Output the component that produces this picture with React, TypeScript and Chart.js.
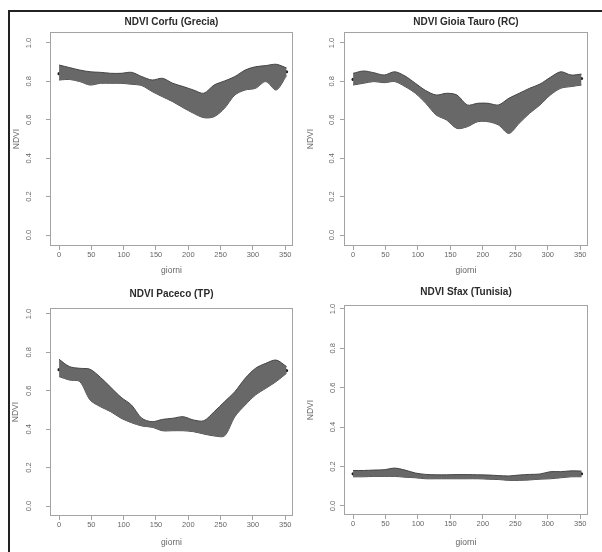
import React, { useEffect, useRef } from "react";
import { Chart, registerables } from "chart.js";
Chart.register(...registerables);

// ---- data ----
const days = [0, 16, 32, 48, 64, 80, 96, 112, 128, 144, 160, 176, 192, 208, 224, 240, 256, 272, 288, 304, 320, 336, 352];
const xTickValues = [0, 50, 100, 150, 200, 250, 300, 350];
const yTickValues = [0, 0.2, 0.4, 0.6, 0.8, 1.0];

const corfuHi = [0.885, 0.872, 0.859, 0.85, 0.847, 0.842, 0.842, 0.847, 0.825, 0.807, 0.816, 0.79, 0.773, 0.755, 0.738, 0.781, 0.802, 0.825, 0.859, 0.876, 0.882, 0.889, 0.87];
const corfuLo = [0.807, 0.81, 0.799, 0.781, 0.79, 0.79, 0.79, 0.785, 0.778, 0.747, 0.72, 0.694, 0.663, 0.634, 0.611, 0.616, 0.66, 0.729, 0.755, 0.764, 0.799, 0.755, 0.83];
const corfuMean = [0.84, 0.835, 0.83, 0.815, 0.82, 0.815, 0.815, 0.815, 0.8, 0.78, 0.77, 0.745, 0.725, 0.705, 0.675, 0.69, 0.725, 0.76, 0.79, 0.81, 0.84, 0.83, 0.85];

const gioiaHi = [0.842, 0.854, 0.845, 0.833, 0.85, 0.828, 0.79, 0.752, 0.729, 0.738, 0.729, 0.677, 0.686, 0.686, 0.677, 0.712, 0.738, 0.764, 0.786, 0.821, 0.85, 0.833, 0.838];
const gioiaLo = [0.781, 0.79, 0.799, 0.793, 0.799, 0.773, 0.738, 0.686, 0.625, 0.599, 0.555, 0.564, 0.59, 0.59, 0.573, 0.529, 0.582, 0.634, 0.677, 0.729, 0.764, 0.773, 0.781];
const gioiaMean = [0.81, 0.825, 0.82, 0.81, 0.815, 0.8, 0.765, 0.725, 0.68, 0.665, 0.65, 0.625, 0.635, 0.635, 0.625, 0.62, 0.66, 0.69, 0.725, 0.77, 0.8, 0.8, 0.815];

const pacecoHi = [0.764, 0.726, 0.717, 0.712, 0.67, 0.618, 0.566, 0.526, 0.457, 0.439, 0.451, 0.457, 0.465, 0.448, 0.444, 0.491, 0.543, 0.595, 0.665, 0.717, 0.743, 0.76, 0.726];
const pacecoLo = [0.674, 0.656, 0.648, 0.552, 0.517, 0.491, 0.457, 0.434, 0.417, 0.41, 0.392, 0.392, 0.392, 0.387, 0.375, 0.365, 0.365, 0.465, 0.526, 0.578, 0.613, 0.648, 0.691];
const pacecoMean = [0.71, 0.69, 0.685, 0.62, 0.595, 0.56, 0.515, 0.48, 0.435, 0.42, 0.42, 0.42, 0.43, 0.415, 0.41, 0.43, 0.45, 0.52, 0.59, 0.645, 0.675, 0.7, 0.705];

const sfaxHi = [0.18, 0.18, 0.182, 0.184, 0.192, 0.182, 0.167, 0.16, 0.158, 0.158, 0.159, 0.159, 0.158, 0.157, 0.154, 0.152, 0.157, 0.16, 0.162, 0.174, 0.174, 0.178, 0.177];
const sfaxLo = [0.148, 0.148, 0.15, 0.15, 0.15, 0.146, 0.143, 0.138, 0.138, 0.138, 0.138, 0.138, 0.138, 0.136, 0.134, 0.13, 0.13, 0.132, 0.136, 0.138, 0.143, 0.148, 0.148];
const sfaxMean = [0.163, 0.165, 0.166, 0.167, 0.17, 0.163, 0.155, 0.15, 0.148, 0.148, 0.149, 0.149, 0.148, 0.147, 0.144, 0.142, 0.144, 0.146, 0.149, 0.156, 0.16, 0.163, 0.163];

const titles = ["NDVI Corfu (Grecia)", "NDVI Gioia Tauro (RC)", "NDVI Paceco (TP)", "NDVI Sfax (Tunisia)"];

const FONT = "'Liberation Sans', Arial, Helvetica, sans-serif";

type Layout = {
  left: number; top: number; w: number; h: number;
  yW: number; padRight: number; tTop: number; tBottom: number; xH: number;
  yTickPad: number; yTitlePad: number; xTitlePad: number; yMin: number; yMax: number;
};

const boxPlugin = {
  id: "rbox",
  beforeDatasetsDraw(chart: any) {
    const { ctx, chartArea } = chart;
    const { left, top, right, bottom } = chartArea;
    ctx.save();
    ctx.strokeStyle = "#a3a3a3";
    ctx.lineWidth = 1;
    ctx.strokeRect(Math.round(left) + 0.5, Math.round(top) + 0.5, Math.round(right - left) - 1, Math.round(bottom - top) - 1);
    ctx.restore();
  },
};

function Panel(props: { title: string; hi: number[]; lo: number[]; mean: number[]; lay: Layout }) {
  const ref = useRef<HTMLCanvasElement>(null);
  const { title, hi, lo, mean, lay } = props;
  useEffect(() => {
    const pts = (arr: number[]) => days.map((d, i) => ({ x: d, y: arr[i] }));
    const tickFont = { family: FONT, size: 7.5 };
    const labFont = { family: FONT, size: 8.5 };
    const chart = new Chart(ref.current as HTMLCanvasElement, {
      type: "line",
      data: {
        datasets: [
          { data: pts(hi), fill: "+1", backgroundColor: "#686868", borderColor: "#454545", borderWidth: 1, pointRadius: 0, tension: 0.3 },
          { data: pts(lo), fill: false, borderColor: "#454545", borderWidth: 1, pointRadius: 0, tension: 0.3 },
          { data: pts(mean), fill: false, borderColor: "#1c1c1c", borderWidth: 1.5, borderDash: [4, 3], pointRadius: 1.6, pointBorderWidth: 0, pointBackgroundColor: "#1c1c1c", tension: 0 },
        ],
      } as any,
      options: {
        animation: false,
        responsive: false,
        devicePixelRatio: 1,
        layout: { padding: { top: 0, right: lay.padRight, left: 0, bottom: 0 } },
        plugins: {
          legend: { display: false },
          tooltip: { enabled: false },
          title: {
            display: true, text: title, fullSize: false, color: "#2b2b2b",
            font: { family: FONT, size: 10, weight: "bold" },
            padding: { top: lay.tTop, bottom: lay.tBottom },
          },
        },
        scales: {
          x: {
            type: "linear", min: -14, max: 362,
            afterFit: (s: any) => { s.height = lay.xH; },
            afterBuildTicks: (s: any) => { s.ticks = xTickValues.map((v) => ({ value: v })); },
            ticks: { color: "#666", font: tickFont, padding: 0, autoSkip: false, maxRotation: 0, minRotation: 0, includeBounds: false },
            grid: { drawOnChartArea: false, drawTicks: true, tickLength: 4, color: "#a3a3a3" },
            border: { display: false },
            title: { display: true, text: "giorni", color: "#666", font: labFont, padding: { top: 0, bottom: lay.xTitlePad } },
          },
          y: {
            type: "linear", min: lay.yMin, max: lay.yMax,
            afterFit: (s: any) => { s.width = lay.yW; },
            afterBuildTicks: (s: any) => { s.ticks = yTickValues.map((v) => ({ value: v })); },
            ticks: {
              color: "#666", font: tickFont, padding: lay.yTickPad, minRotation: 90, maxRotation: 90, crossAlign: "center",
              includeBounds: false, callback: (v: any) => Number(v).toFixed(1),
            },
            grid: { drawOnChartArea: false, drawTicks: true, tickLength: 4, color: "#a3a3a3" },
            border: { display: false },
            title: { display: true, text: "NDVI", color: "#666", font: labFont, padding: { top: lay.yTitlePad, bottom: 0 } },
          },
        },
      } as any,
      plugins: [boxPlugin],
    });
    return () => chart.destroy();
  }, []);
  return (
    <canvas
      ref={ref}
      width={lay.w}
      height={lay.h}
      style={{ position: "absolute", left: lay.left, top: lay.top, width: lay.w, height: lay.h }}
    />
  );
}

const layouts: Layout[] = [
  { left: 10, top: 12, w: 290, h: 264, yW: 40, padRight: 7, tTop: 4, tBottom: 4, xH: 30, yTickPad: 12, yTitlePad: 2, xTitlePad: 0, yMin: -0.057, yMax: 1.057 },
  { left: 304, top: 12, w: 290, h: 264, yW: 40, padRight: 6, tTop: 4, tBottom: 4, xH: 30, yTickPad: 2.5, yTitlePad: 2, xTitlePad: 0, yMin: -0.057, yMax: 1.057 },
  { left: 10, top: 280, w: 290, h: 270, yW: 40, padRight: 7, tTop: 8, tBottom: 8, xH: 34, yTickPad: 12, yTitlePad: 1, xTitlePad: 2, yMin: -0.052, yMax: 1.031 },
  { left: 304, top: 280, w: 290, h: 270, yW: 40, padRight: 6, tTop: 6, tBottom: 7, xH: 35, yTickPad: 1.5, yTitlePad: 2, xTitlePad: 2, yMin: -0.046, yMax: 1.02 },
];

export default function App() {
  return (
    <div style={{ position: "absolute", left: 0, top: 0, width: 602, height: 552, background: "#fff", overflow: "hidden" }}>
      <div style={{ position: "absolute", left: 8, top: 10, width: 600, height: 550, borderLeft: "2px solid #222", borderTop: "2px solid #222" }} />
      <Panel title={titles[0]} hi={corfuHi} lo={corfuLo} mean={corfuMean} lay={layouts[0]} />
      <Panel title={titles[1]} hi={gioiaHi} lo={gioiaLo} mean={gioiaMean} lay={layouts[1]} />
      <Panel title={titles[2]} hi={pacecoHi} lo={pacecoLo} mean={pacecoMean} lay={layouts[2]} />
      <Panel title={titles[3]} hi={sfaxHi} lo={sfaxLo} mean={sfaxMean} lay={layouts[3]} />
    </div>
  );
}
